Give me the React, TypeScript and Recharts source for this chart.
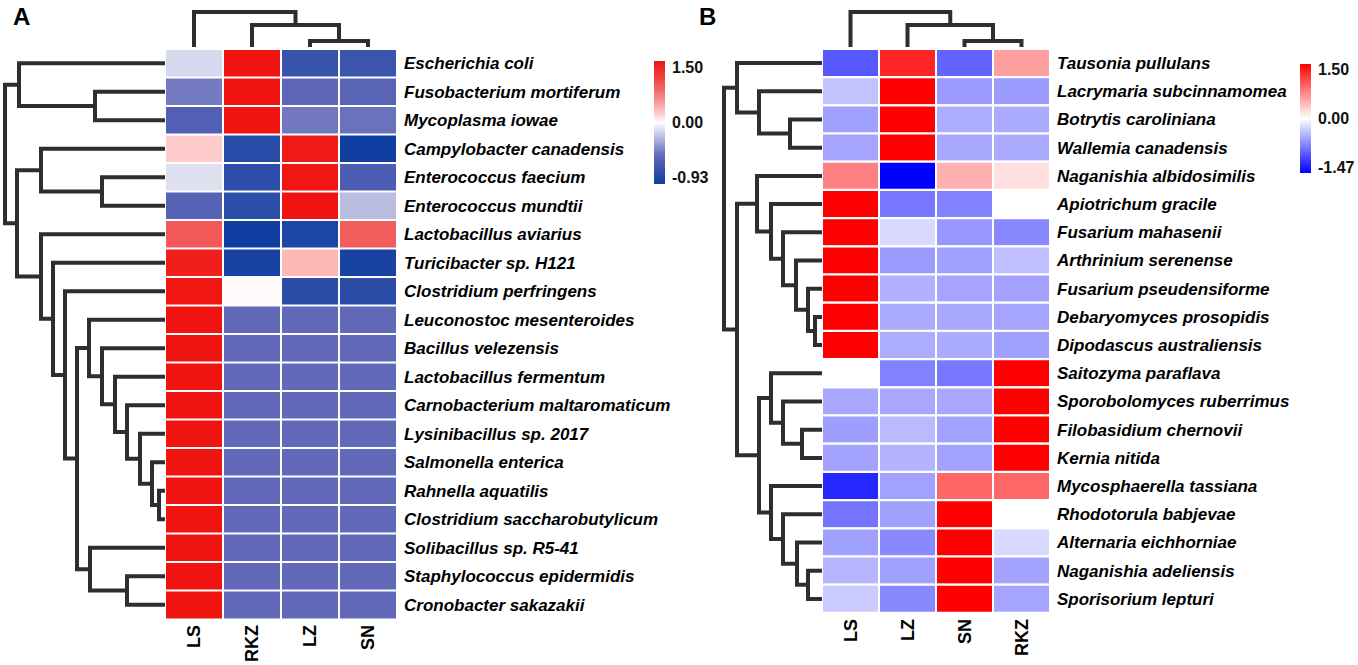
import React from "react";
import { BarChart, Bar, Cell, XAxis, YAxis, ScatterChart, Scatter } from "recharts";

const FONT = "'Liberation Sans', Arial, sans-serif";
const LINE = "#2e2e2e";

// ---------- panel A (bacteria) ----------
const speciesA = [
  "Escherichia coli",
  "Fusobacterium mortiferum",
  "Mycoplasma iowae",
  "Campylobacter canadensis",
  "Enterococcus faecium",
  "Enterococcus mundtii",
  "Lactobacillus aviarius",
  "Turicibacter sp. H121",
  "Clostridium perfringens",
  "Leuconostoc mesenteroides",
  "Bacillus velezensis",
  "Lactobacillus fermentum",
  "Carnobacterium maltaromaticum",
  "Lysinibacillus sp. 2017",
  "Salmonella enterica",
  "Rahnella aquatilis",
  "Clostridium saccharobutylicum",
  "Solibacillus sp. R5-41",
  "Staphylococcus epidermidis",
  "Cronobacter sakazakii",
];
const groupsA = ["LS", "RKZ", "LZ", "SN"];
// one row per species, columns in groupsA order
const valuesA = [
  [-0.13, 1.5, -0.72, -0.7],
  [-0.44, 1.5, -0.52, -0.54],
  [-0.58, 1.5, -0.45, -0.47],
  [0.21, -0.8, 1.45, -0.92],
  [-0.1, -0.77, 1.48, -0.61],
  [-0.56, -0.77, 1.5, -0.22],
  [0.9, -0.93, -0.85, 0.86],
  [1.4, -0.88, 0.32, -0.88],
  [1.48, 0.02, -0.78, -0.78],
  [1.5, -0.5, -0.5, -0.5],
  [1.5, -0.5, -0.5, -0.5],
  [1.5, -0.5, -0.5, -0.5],
  [1.5, -0.5, -0.5, -0.5],
  [1.5, -0.5, -0.5, -0.5],
  [1.5, -0.5, -0.5, -0.5],
  [1.5, -0.5, -0.5, -0.5],
  [1.5, -0.5, -0.5, -0.5],
  [1.5, -0.5, -0.5, -0.5],
  [1.5, -0.5, -0.5, -0.5],
  [1.5, -0.5, -0.5, -0.5],
];
const rangeA = [-0.93, 1.5];

// ---------- panel B (fungi) ----------
const speciesB = [
  "Tausonia pullulans",
  "Lacrymaria subcinnamomea",
  "Botrytis caroliniana",
  "Wallemia canadensis",
  "Naganishia albidosimilis",
  "Apiotrichum gracile",
  "Fusarium mahasenii",
  "Arthrinium serenense",
  "Fusarium pseudensiforme",
  "Debaryomyces prosopidis",
  "Dipodascus australiensis",
  "Saitozyma paraflava",
  "Sporobolomyces ruberrimus",
  "Filobasidium chernovii",
  "Kernia nitida",
  "Mycosphaerella tassiana",
  "Rhodotorula babjevae",
  "Alternaria eichhorniae",
  "Naganishia adeliensis",
  "Sporisorium lepturi",
];
const groupsB = ["LS", "LZ", "SN", "RKZ"];
const valuesB = [
  [-0.96, 1.28, -0.9, 0.56],
  [-0.35, 1.5, -0.58, -0.57],
  [-0.55, 1.5, -0.47, -0.48],
  [-0.52, 1.5, -0.5, -0.48],
  [0.75, -1.47, 0.46, 0.18],
  [1.5, -0.78, -0.72, 0],
  [1.5, -0.22, -0.6, -0.68],
  [1.5, -0.58, -0.55, -0.37],
  [1.5, -0.45, -0.52, -0.53],
  [1.5, -0.48, -0.5, -0.52],
  [1.5, -0.47, -0.48, -0.55],
  [0, -0.72, -0.78, 1.5],
  [-0.5, -0.5, -0.5, 1.5],
  [-0.56, -0.4, -0.54, 1.5],
  [-0.53, -0.44, -0.53, 1.5],
  [-1.25, -0.54, 0.9, 0.89],
  [-0.8, -0.55, 1.5, 0],
  [-0.55, -0.68, 1.5, -0.22],
  [-0.42, -0.55, 1.5, -0.53],
  [-0.3, -0.68, 1.5, -0.52],
];
const rangeB = [-1.47, 1.5];

// dendrograms: leaf = row/column index, node = [left, right, merge height]
type Tree = number | [Tree, Tree, number];
const rowTreeA: Tree = [
  [0, [1, 2, 70], 146],
  [
    [3, [4, 5, 63], 124],
    [6, [7, [8, [[9, [10, [11, [12, [13, [14, [15, 16, 6], 13], 25], 38], 50], 63], 76], [17, [18, 19, 38], 75], 88], 100], 112], 124],
    148,
  ],
  160,
];
const colTreeA: Tree = [0, [1, [2, 3, 6], 22], 35];
const rowTreeB: Tree = [
  [0, [1, [2, 3, 32], 63], 85],
  [
    [4, [5, [6, [7, [8, [9, 10, 7], 14], 26], 39], 51], 65],
    [[11, [12, [13, 14, 20], 39], 51], [15, [16, [17, [18, 19, 14], 25], 39], 51], 63],
    85,
  ],
  98,
];
const colTreeB: Tree = [0, [1, [2, 3, 6], 22], 35];

// colour stops: [fraction of the scale end, rgb]
type RGB = number[];
type Stop = [number, RGB];
const WHITE: RGB = [255, 255, 255];
const paletteA = {
  neg: [[0, WHITE], [0.54, [96, 104, 184]], [1, [15, 62, 160]]] as Stop[],
  pos: [[0, WHITE], [0.15, [255, 200, 200]], [0.58, [242, 92, 92]], [1, [240, 20, 16]]] as Stop[],
};
const paletteB = {
  neg: [[0, WHITE], [1, [0, 0, 255]]] as Stop[],
  pos: [[0, WHITE], [1, [255, 0, 0]]] as Stop[],
};

const heatColor = (v: number, range: number[], pal: { neg: Stop[]; pos: Stop[] }) => {
  const stops = v >= 0 ? pal.pos : pal.neg;
  const f = Math.min(Math.abs(v / (v >= 0 ? range[1] : range[0])), 1);
  let k = 1;
  while (k < stops.length - 1 && stops[k][0] < f) k++;
  const [f0, c0] = stops[k - 1];
  const [f1, c1] = stops[k];
  const t = (f - f0) / (f1 - f0);
  const c = c0.map((a, i) => Math.round(a + (c1[i] - a) * t));
  return `rgb(${c[0]},${c[1]},${c[2]})`;
};

type Pt = { p: number; h: number };
const layoutTree = (t: Tree, links: Pt[][]): Pt => {
  if (typeof t === "number") return { p: t + 0.5, h: 0 };
  const a = layoutTree(t[0], links);
  const b = layoutTree(t[1], links);
  links.push([a, { p: a.p, h: t[2] }, { p: b.p, h: t[2] }, b]);
  return { p: (a.p + b.p) / 2, h: t[2] };
};

const Dendrogram = ({ tree, leaves, maxH, side, left, top, width, height }: any) => {
  const links: Pt[][] = [];
  layoutTree(tree, links);
  const pad = 4;
  const isLeft = side === "left";
  return (
    <div style={{ position: "absolute", left: left - pad, top: top - pad }}>
      <ScatterChart width={width + 2 * pad} height={height + 2 * pad} margin={{ top: pad, right: pad, bottom: pad, left: pad }}>
        <XAxis type="number" dataKey="x" hide domain={isLeft ? [0, maxH] : [0, leaves]} reversed={isLeft} />
        <YAxis type="number" dataKey="y" hide domain={isLeft ? [0, leaves] : [0, maxH]} reversed={isLeft} />
        {links.map((l, i) => (
          <Scatter
            key={i}
            data={l.map((q) => (isLeft ? { x: q.h, y: q.p } : { x: q.p, y: q.h }))}
            line={{ stroke: LINE, strokeWidth: 4 }}
            shape={() => <g />}
            isAnimationActive={false}
          />
        ))}
      </ScatterChart>
    </div>
  );
};

const Heatmap = ({ species, groups, values, range, pal, left, top, width, height }: any) => {
  const rows = species.map((name: string) => {
    const r: any = { name };
    groups.forEach((g: string) => (r[g] = 1));
    return r;
  });
  return (
    <div style={{ position: "absolute", left, top }}>
      <BarChart layout="vertical" width={width + 290} height={height + 50} data={rows} barCategoryGap={0} margin={{ top: 0, right: 0, bottom: 0, left: 0 }}>
        <XAxis
          type="number"
          domain={[0, groups.length]}
          ticks={groups.map((_: string, j: number) => j + 0.5)}
          interval={0}
          height={50}
          axisLine={false}
          tickLine={false}
          tickSize={0}
          tickMargin={0}
          tick={(p: any) => (
            <text
              x={p.x}
              y={p.y + 6}
              transform={`rotate(-90, ${p.x}, ${p.y + 6})`}
              textAnchor="end"
              dy="0.35em"
              fontFamily={FONT}
              fontWeight="bold"
              fontSize={18}
              fill="#000"
            >
              {groups[Math.floor(p.payload.value)]}
            </text>
          )}
        />
        <YAxis
          type="category"
          dataKey="name"
          orientation="right"
          width={290}
          interval={0}
          axisLine={false}
          tickLine={false}
          tickSize={0}
          tickMargin={0}
          tick={(p: any) => (
            <text x={p.x + 7} y={p.y} dy="0.35em" textAnchor="start" fontFamily={FONT} fontWeight="bold" fontStyle="italic" fontSize={17} fill="#000">
              {p.payload.value}
            </text>
          )}
        />
        {groups.map((g: string, j: number) => (
          <Bar key={g} dataKey={g} stackId="h" stroke="#fff" strokeWidth={2} isAnimationActive={false}>
            {values.map((row: number[], i: number) => (
              <Cell key={i} fill={heatColor(row[j], range, pal)} />
            ))}
          </Bar>
        ))}
      </BarChart>
    </div>
  );
};

const ColorBar = ({ id, range, pal, left, top, height }: any) => {
  const pad = 12;
  const stops = Array.from({ length: 21 }, (_, k) => {
    const v = k <= 10 ? range[1] * (1 - k / 10) : range[0] * ((k - 10) / 10);
    return <stop key={k} offset={`${k * 5}%`} stopColor={heatColor(v, range, pal)} />;
  });
  const label = (v: number) => (v > 0 ? range[1] : v < 0 ? range[0] : 0).toFixed(2);
  return (
    <div style={{ position: "absolute", left, top: top - pad }}>
      <BarChart width={11 + 60} height={height + 2 * pad} data={[{ name: "scale", v: [-1, 1] }]} barCategoryGap={0} margin={{ top: pad, right: 0, bottom: pad, left: 0 }}>
        <defs>
          <linearGradient id={id} x1="0" y1="0" x2="0" y2="1">
            {stops}
          </linearGradient>
        </defs>
        <XAxis type="category" dataKey="name" hide />
        <YAxis
          type="number"
          domain={[-1, 1]}
          ticks={[-0.9, 0, 0.9]}
          orientation="right"
          width={60}
          axisLine={false}
          tickLine={false}
          tickSize={0}
          tickMargin={0}
          tick={(p: any) => (
            <text x={p.x + 7} y={p.y} dy="0.35em" textAnchor="start" fontFamily={FONT} fontWeight="bold" fontSize={16} fill="#111">
              {label(p.payload.value)}
            </text>
          )}
        />
        <Bar dataKey="v" fill={`url(#${id})`} isAnimationActive={false} />
      </BarChart>
    </div>
  );
};

export default function App() {
  return (
    <div style={{ position: "absolute", left: 0, top: 0, width: 1358, height: 665, overflow: "hidden", background: "#fff" }}>
      <svg width={1358} height={40} style={{ position: "absolute", left: 0, top: 0 }}>
        <text x={13} y={25} fontFamily={FONT} fontWeight="bold" fontSize={24} fill="#000">A</text>
        <text x={699} y={25} fontFamily={FONT} fontWeight="bold" fontSize={24} fill="#000">B</text>
      </svg>

      <Dendrogram tree={rowTreeA} leaves={20} maxH={160} side="left" left={5} top={49} width={160} height={570} />
      <Dendrogram tree={colTreeA} leaves={4} maxH={35} side="top" left={165} top={12} width={232} height={35} />
      <Heatmap species={speciesA} groups={groupsA} values={valuesA} range={rangeA} pal={paletteA} left={165} top={49} width={232} height={570} />
      <ColorBar id="gradA" range={rangeA} pal={paletteA} left={654} top={61} height={123} />

      <Dendrogram tree={rowTreeB} leaves={20} maxH={98} side="left" left={724} top={49} width={98} height={564} />
      <Dendrogram tree={colTreeB} leaves={4} maxH={35} side="top" left={822} top={12} width={228} height={35} />
      <Heatmap species={speciesB} groups={groupsB} values={valuesB} range={rangeB} pal={paletteB} left={822} top={49} width={228} height={564} />
      <ColorBar id="gradB" range={rangeB} pal={paletteB} left={1300} top={64} height={109} />
    </div>
  );
}
